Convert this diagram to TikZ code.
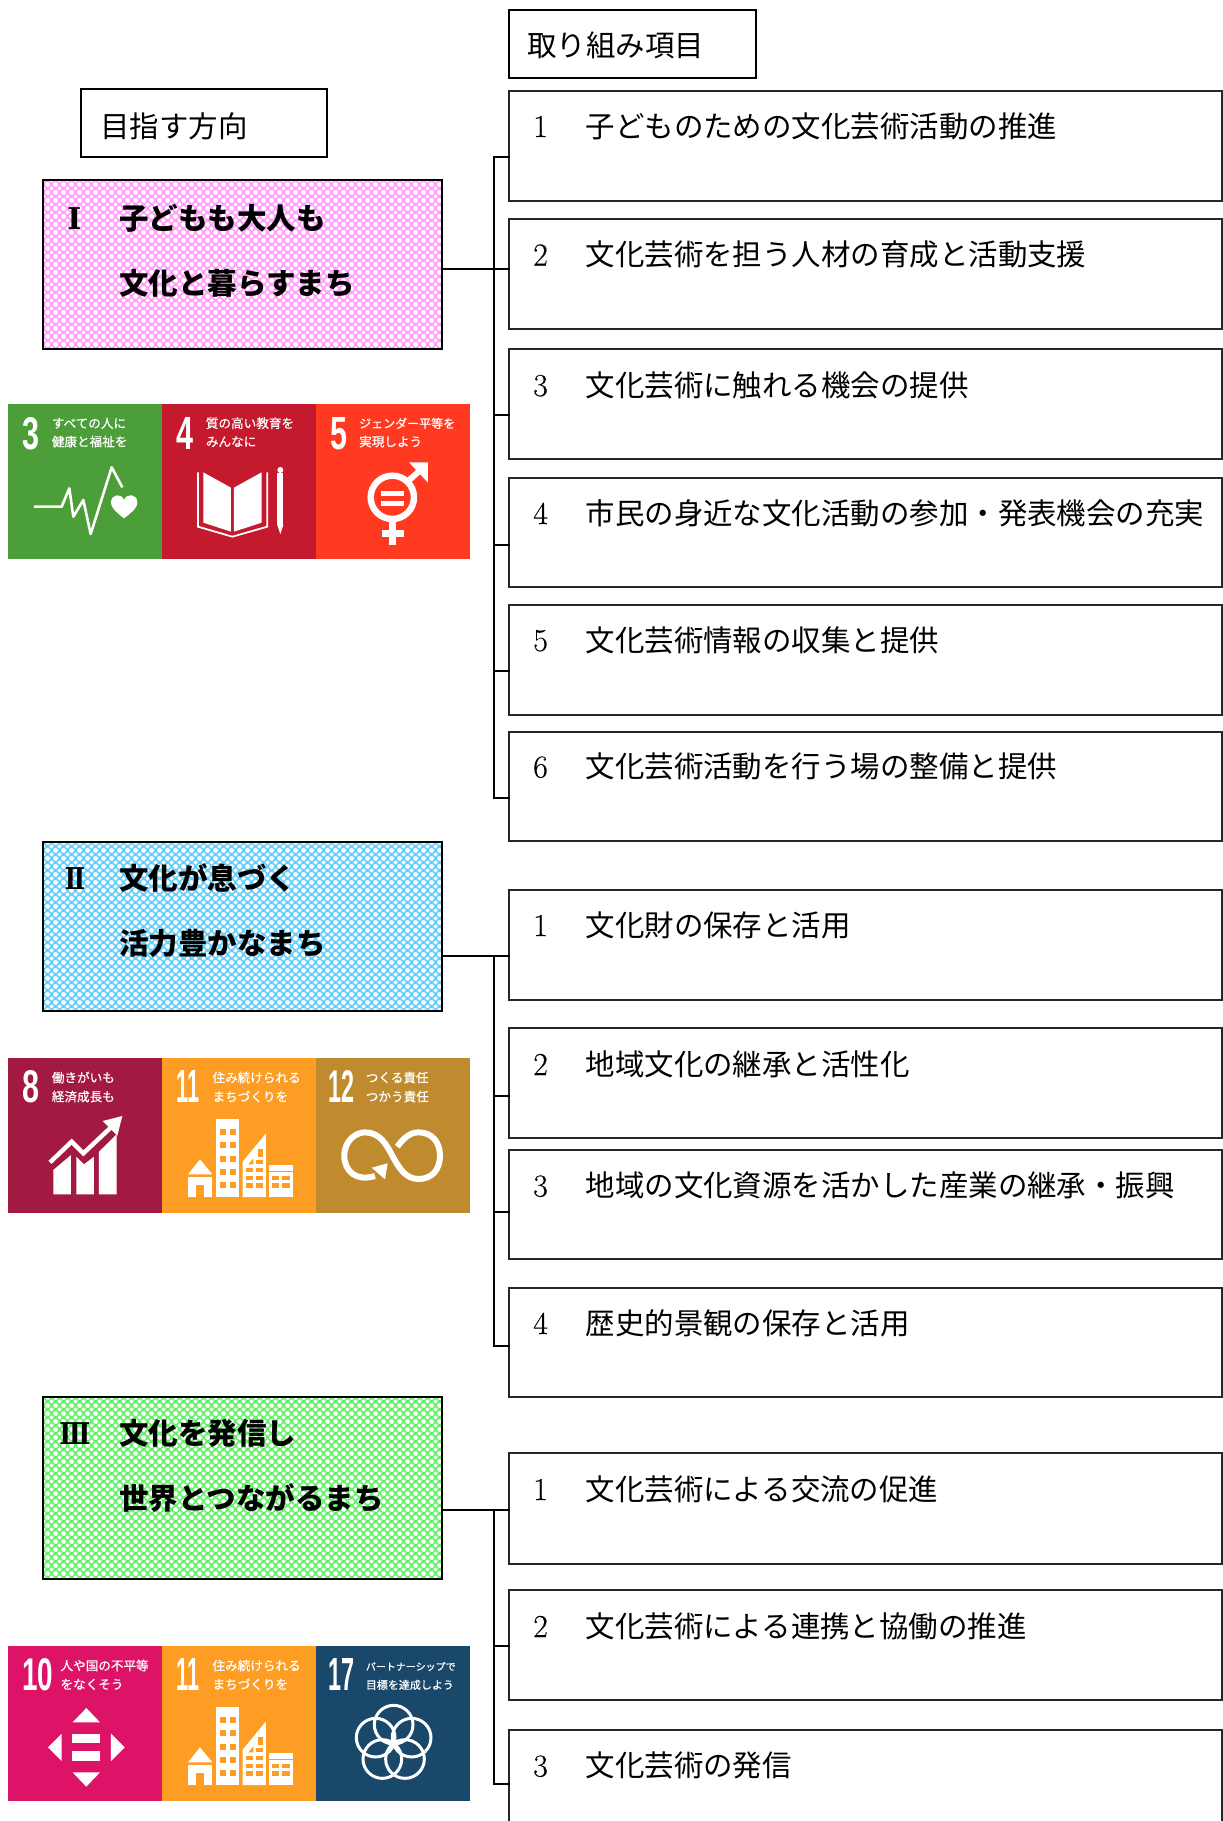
\documentclass[tikz,border=0pt]{standalone}
\usepackage{fontspec}
\usetikzlibrary{patterns}
\newfontfamily\jp{Noto Sans CJK JP}
\newfontfamily\jpm{Noto Sans CJK JP}[FakeBold=0.6]
\newfontfamily\numf{Liberation Sans}[BoldFont={Liberation Sans Bold}]
\newfontfamily\romf{DejaVu Serif}[BoldFont={DejaVu Serif Bold}]
\newfontfamily\digf{Latin Modern Roman}[FakeBold=0.3]
\definecolor{cPink}{HTML}{FF9EF8}
\definecolor{cBlue}{HTML}{68CEF8}
\definecolor{cGreen}{HTML}{66F06A}
\definecolor{sA}{HTML}{4C9F38}
\definecolor{sB}{HTML}{C5192D}
\definecolor{sC}{HTML}{FF3A21}
\definecolor{sD}{HTML}{A21942}
\definecolor{sE}{HTML}{FD9D24}
\definecolor{sF}{HTML}{BF8B2E}
\definecolor{sG}{HTML}{DD1367}
\definecolor{sH}{HTML}{19486A}
\pgfdeclarepatternformonly{latt}{\pgfpointorigin}{\pgfqpoint{8bp}{8bp}}{\pgfqpoint{8bp}{8bp}}{%
  \pgfpathmoveto{\pgfqpoint{0bp}{2.5bp}}\pgfpathlineto{\pgfqpoint{2.5bp}{0bp}}%
  \pgfpathlineto{\pgfqpoint{0bp}{-2.5bp}}\pgfpathlineto{\pgfqpoint{-2.5bp}{0bp}}\pgfpathclose
  \pgfpathmoveto{\pgfqpoint{8bp}{2.5bp}}\pgfpathlineto{\pgfqpoint{10.5bp}{0bp}}%
  \pgfpathlineto{\pgfqpoint{8bp}{-2.5bp}}\pgfpathlineto{\pgfqpoint{5.5bp}{0bp}}\pgfpathclose
  \pgfpathmoveto{\pgfqpoint{0bp}{10.5bp}}\pgfpathlineto{\pgfqpoint{2.5bp}{8bp}}%
  \pgfpathlineto{\pgfqpoint{0bp}{5.5bp}}\pgfpathlineto{\pgfqpoint{-2.5bp}{8bp}}\pgfpathclose
  \pgfpathmoveto{\pgfqpoint{8bp}{10.5bp}}\pgfpathlineto{\pgfqpoint{10.5bp}{8bp}}%
  \pgfpathlineto{\pgfqpoint{8bp}{5.5bp}}\pgfpathlineto{\pgfqpoint{5.5bp}{8bp}}\pgfpathclose
  \pgfpathmoveto{\pgfqpoint{4bp}{6.5bp}}\pgfpathlineto{\pgfqpoint{6.5bp}{4bp}}%
  \pgfpathlineto{\pgfqpoint{4bp}{1.5bp}}\pgfpathlineto{\pgfqpoint{1.5bp}{4bp}}\pgfpathclose
  \pgfusepath{fill}}
\tikzset{
  px/.style={x=1pt,y=-1pt},
  itembox/.style={draw=black!85,line width=2pt,rectangle,inner sep=0,outer sep=0,anchor=north west,minimum width=713pt},
  headbox/.style={draw=black,line width=2pt,rectangle,inner sep=0,outer sep=0,anchor=north west},
  goalbox/.style={draw=black,line width=2.8pt,rectangle,inner sep=0,outer sep=0,anchor=north west,minimum width=399pt,
    preaction={fill=#1},preaction={pattern=latt,pattern color=white}},
  rowtx/.style={anchor=base west,inner sep=0,font=\jp\fontsize{29.45}{29.45}\selectfont},
  rownum/.style={anchor=base west,inner sep=0,font=\digf\fontsize{32}{32}\selectfont},
  goaltx/.style={anchor=base west,inner sep=0,font=\jp\bfseries\fontsize{29.5}{29.5}\selectfont},
  goalrom/.style={anchor=base,inner sep=0,font=\romf\bfseries\fontsize{30}{30}\selectfont},
  conn/.style={draw=black,line width=1.8pt,line cap=rect},
  zoomed/.style={x=0.33333pt,y=-0.33333pt},
  ico/.style={fill=white,draw=none},
  icl/.style={draw=white,fill=none,line join=miter},
  tiletx/.style={anchor=base west,inner sep=0,text=white},
  tilenum/.style={anchor=west,inner sep=0,text=white,font=\numf\bfseries\fontsize{44}{44}\selectfont},
}
\newcount\sdgc
\newcommand\sdgt[4][12.6]{\global\advance\sdgc by 1
  \node[tiletx,font=\jpm\fontsize{#1}{#1}\selectfont] (sdg\the\sdgc) at (#2,#3+14) {#4};}
\newcommand\sdgn[4]{\global\advance\sdgc by 1
  \node[tilenum] (sdg\the\sdgc) at (#1,#2) {\resizebox{#3pt}{32pt}{#4}};}
\newcommand\tile[4]{\fill[#4] (#1,#2) rectangle (#1+462,#3);}
\newcommand\itembox[6]{%
  \node[itembox,minimum height={(#3-#2)*1pt}] (#1) at (509,#2) {};
  \node[rownum] (#1n) at (533,#5+11) {#4};
  \node[rowtx] (#1t) at (585.5,#5+11) {#6};}
\newcommand\cityicon{%
  \path[ico] (647,221) rectangle (718,456);
  \foreach \yy in {252,292,332,372,412}{
    \fill[sE] (660,\yy) rectangle (678,\yy+18);
    \fill[sE] (689,\yy) rectangle (707,\yy+18);}
  \path[ico] (600,343) -- (637,388) -- (564,388) -- cycle;
  \path[ico] (564,397) rectangle (637,456);
  \fill[sE] (587,420) rectangle (613,456);
  \path[ico] (728,350) -- (798,265) -- (798,456) -- (728,456) -- cycle;
  \fill[sE] (737,368) rectangle (760,382); \fill[sE] (767,368) rectangle (790,382);
  \fill[sE] (737,392) rectangle (760,405); \fill[sE] (767,392) rectangle (790,405);
  \fill[sE] (737,415) rectangle (760,430); \fill[sE] (767,415) rectangle (790,430);
  \fill[sE] (767,345) rectangle (790,358); \fill[sE] (745,358) -- (760,340) -- (760,358) -- cycle;
  \fill[sE] (775,312) rectangle (790,335);
  \path[ico] (808,361) rectangle (880,377);
  \path[ico] (808,382) rectangle (880,456);
  \fill[sE] (815,392) rectangle (838,405); \fill[sE] (845,392) rectangle (870,405);
  \fill[sE] (815,415) rectangle (838,430); \fill[sE] (845,415) rectangle (870,430);}
\begin{document}
\begin{tikzpicture}[px]
\useasboundingbox (0,0) rectangle (1223,1821);
\clip (0,0) rectangle (1223,1821);
% headers
\node[headbox,minimum width=246pt,minimum height=68pt] (hleft) at (81,89) {};
\node[rowtx] (hleftt) at (100,137) {目指す方向};
\node[headbox,minimum width=247pt,minimum height=68pt] (hright) at (509,10) {};
\node[rowtx] (hrightt) at (527,56) {取り組み項目};
% goals
\node[goalbox=cPink,minimum height=169pt] (gI) at (43,180) {};
\node[goalrom] at (74.5,229) (gIa) {Ⅰ};
\node[goaltx] at (119,229) (gIb) {子どもも大人も};
\node[goaltx] at (119,294) (gIc) {文化と暮らすまち};
\node[goalbox=cBlue,minimum height=169pt] (gII) at (43,842) {};
\node[goalrom] at (75,889) (gIIa) {\scalebox{.8}[1]{Ⅱ}};
\node[goaltx] at (119,889) (gIIb) {文化が息づく};
\node[goaltx] at (119,954) (gIIc) {活力豊かなまち};
\node[goalbox=cGreen,minimum height=182pt] (gIII) at (43,1397) {};
\node[goalrom] at (75,1444) (gIIIa) {\scalebox{.85}[1]{Ⅲ}};
\node[goaltx] at (119,1444) (gIIIb) {文化を発信し};
\node[goaltx] at (119,1509) (gIIIc) {世界とつながるまち};
% items
\itembox{a}{91}{201}{1}{126}{子どものための文化芸術活動の推進}
\itembox{b}{219}{329}{2}{254.5}{文化芸術を担う人材の育成と活動支援}
\itembox{c}{349}{459}{3}{385}{文化芸術に触れる機会の提供}
\itembox{d}{478}{587}{4}{513}{市民の身近な文化活動の参加・発表機会の充実}
\itembox{e}{605}{715}{5}{640}{文化芸術情報の収集と提供}
\itembox{f}{732}{841}{6}{766.5}{文化芸術活動を行う場の整備と提供}
\itembox{g}{890}{1000}{1}{925}{文化財の保存と活用}
\itembox{h}{1028}{1138}{2}{1064}{地域文化の継承と活性化}
\itembox{i}{1150}{1259}{3}{1185.5}{地域の文化資源を活かした産業の継承・振興}
\itembox{j}{1288}{1397}{4}{1323}{歴史的景観の保存と活用}
\itembox{k}{1453}{1564}{1}{1489}{文化芸術による交流の促進}
\itembox{l}{1590}{1700}{2}{1626}{文化芸術による連携と協働の推進}
\itembox{m}{1730}{1840}{3}{1765.5}{文化芸術の発信}
% connectors
\coordinate (tr) at (494,0);
\draw[conn] (gI.east |- 0,269) -- (b.west |- 0,269);
\draw[conn] (a.west |- 0,157) -- (tr |- 0,157) -- (tr |- 0,798) -- (f.west |- 0,798);
\draw[conn] (c.west |- 0,415) -- (tr |- 0,415);
\draw[conn] (d.west |- 0,545) -- (tr |- 0,545);
\draw[conn] (e.west |- 0,671) -- (tr |- 0,671);
\draw[conn] (gII.east |- 0,956) -- (g.west |- 0,956);
\draw[conn] (tr |- 0,956) -- (tr |- 0,1346) -- (j.west |- 0,1346);
\draw[conn] (h.west |- 0,1096) -- (tr |- 0,1096);
\draw[conn] (i.west |- 0,1212) -- (tr |- 0,1212);
\draw[conn] (gIII.east |- 0,1510) -- (k.west |- 0,1510);
\draw[conn] (tr |- 0,1510) -- (tr |- 0,1784) -- (m.west |- 0,1784);
\draw[conn] (l.west |- 0,1646) -- (tr |- 0,1646);
% ---------- SDG strip 1
\begin{scope}[shift={(0,390)},zoomed]
\tile{24}{42}{507}{sA}\tile{486}{42}{507}{sB}\tile{948}{42}{507}{sC}
\sdgn{66}{130}{17}{3}\sdgt{155}{100}{すべての人に}\sdgt{155}{155}{健康と福祉を}
\draw[icl,line width=2.6pt,line join=round] (102,350) -- (185,350) -- (208,295) -- (220,380) -- (250,330) -- (272,432) -- (335,232) -- (367,292);
\path[ico] (372,385) .. controls (340,360) and (333,350) .. (333,337) .. controls (333,312) and (365,308) .. (372,330) .. controls (380,308) and (412,312) .. (412,337) .. controls (412,350) and (405,360) .. (372,385) -- cycle;
\sdgn{530}{130}{17}{4}\sdgt{617}{100}{質の高い教育を}\sdgt{617}{155}{みんなに}
\path[ico] (610,247) -- (693,293) -- (693,425) -- (610,398) -- cycle;
\path[ico] (702,293) -- (785,247) -- (785,398) -- (702,425) -- cycle;
\draw[icl,line width=1.8pt] (594,247) -- (594,410) -- (697,440) -- (802,410) -- (802,247);
\path[ico] (832,250) rectangle (850,405);
\path[ico] (832,405) -- (850,405) -- (841,432) -- cycle;
\path[ico] (841,240) circle [radius=9];
\sdgn{990}{130}{17}{5}\sdgt[12]{1077}{100}{ジェンダー平等を}
\sdgt{1077}{155}{実現しよう}
\draw[icl,line width=6.4pt] (1177,322) circle [radius=65];
\path[ico] (1143,302) rectangle (1213,317);
\path[ico] (1143,332) rectangle (1213,347);
\path[ico] (1167,395) rectangle (1189,465);
\path[ico] (1145,420) rectangle (1213,442);
\draw[icl,line width=6pt] (1222,275) -- (1265,237);
\path[ico] (1227,217) -- (1284,217) -- (1284,278) -- cycle;
\end{scope}
% ---------- SDG strip 2
\begin{scope}[shift={(0,1045)},zoomed]
\tile{24}{39}{504}{sD}\tile{486}{39}{504}{sE}\tile{948}{39}{504}{sF}
\sdgn{66}{124}{17}{8}\sdgt{155}{98}{働きがいも}\sdgt{155}{155}{経済成長も}
\path[ico] (160,375) -- (213,330) -- (213,448) -- (160,448) -- cycle;
\path[ico] (229,335) -- (252,358) -- (282,335) -- (282,448) -- (229,448) -- cycle;
\path[ico] (297,320) -- (350,268) -- (350,448) -- (297,448) -- cycle;
\draw[icl,line width=4.4pt] (150,352) -- (215,290) -- (250,325) -- (335,245);
\path[ico] (367,213) -- (308,228) -- (352,272) -- cycle;
\sdgn{528}{124}{23}{11}\sdgt{637}{98}{住み続けられる}\sdgt{637}{155}{まちづくりを}
\cityicon
\sdgn{985}{124}{26}{12}\sdgt{1097}{98}{つくる責任}\sdgt{1097}{155}{つかう責任}
\draw[icl,line width=6pt] (1125,393) .. controls (1070,410) and (1033,380) .. (1033,332) .. controls (1033,285) and (1070,262) .. (1095,262) .. controls (1140,262) and (1160,300) .. (1177,332) .. controls (1195,365) and (1215,402) .. (1255,402) .. controls (1295,402) and (1320,375) .. (1320,332) .. controls (1320,290) and (1295,262) .. (1255,262) .. controls (1230,262) and (1210,280) .. (1192,305);
\path[ico] (1163,355) -- (1155,403) -- (1115,368) -- cycle;
\end{scope}
% ---------- SDG strip 3
\begin{scope}[shift={(0,1635)},zoomed]
\tile{24}{33}{498}{sG}\tile{486}{33}{498}{sE}\tile{948}{33}{498}{sH}
\sdgn{66}{120}{31}{10}\sdgt{181}{92}{人や国の不平等}\sdgt{181}{148}{をなくそう}
\path[ico] (259,219) -- (300,262) -- (218,262) -- cycle;
\path[ico] (185,296) -- (185,378) -- (144,337) -- cycle;
\path[ico] (333,296) -- (333,378) -- (374,337) -- cycle;
\path[ico] (218,412) -- (300,412) -- (259,455) -- cycle;
\path[ico] (217,296) rectangle (301,324);
\path[ico] (217,349) rectangle (301,377);
\sdgn{528}{118}{23}{11}\sdgt{637}{92}{住み続けられる}\sdgt{637}{148}{まちづくりを}
\begin{scope}[shift={(0,-6)}]\cityicon\end{scope}
\sdgn{985}{118}{26}{17}\sdgt[10]{1097}{92}{パートナーシップで}\sdgt[11]{1097}{148}{目標を達成しよう}
\foreach \cx/\cy in {1181/269,1127/308,1235/308,1147/372,1215/372}{
  \draw[icl,line width=3pt] (\cx,\cy) circle [radius=58];}
\end{scope}
\end{tikzpicture}
\end{document}
